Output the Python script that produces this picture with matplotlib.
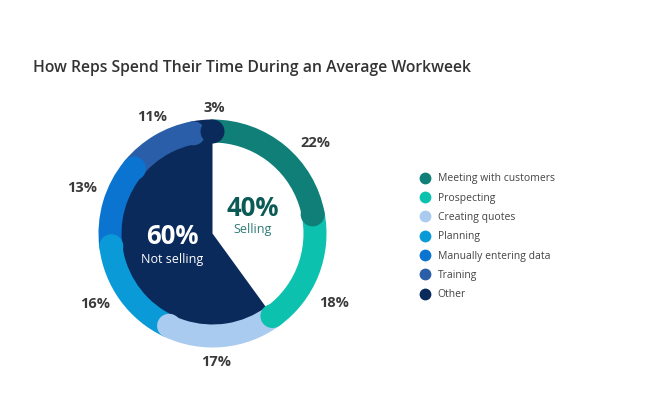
import numpy as np
import matplotlib
matplotlib.use('Agg')
import matplotlib.pyplot as plt
from matplotlib.lines import Line2D
from matplotlib.patches import Circle

# данные
categories = ['Meeting with customers', 'Prospecting', 'Creating quotes', 'Planning',
              'Manually entering data', 'Training', 'Other']
shares = [22, 18, 17, 16, 13, 11, 3]
colors = ['#0f7f78', '#0cc2ae', '#aacbf0', '#0b9ad8', '#0b74d0', '#2a5ea8', '#0b2a5c']
inner_labels = ['Selling', 'Not selling']
inner_shares = [40, 60]

# сдвиг подписей по углу и радиус (оформление)
label_shift = [-9, -8, -4, -5, -3, -3, -6]
label_r = [137, 140, 129, 137, 138, 131, 126]

plt.rcParams['font.family'] = ['Open Sans', 'DejaVu Sans']

W, H = 661, 417
fig = plt.figure(figsize=(W / 100, H / 100), dpi=100)
ax = fig.add_axes([0, 0, 1, 1])

cx, cy = 212.5, H - 233.5
r_out, ring = 114, 24
r_in = r_out - ring

# внешнее кольцо
ax.pie(shares, colors=colors, startangle=90, counterclock=False, radius=r_out,
       center=(cx, cy), wedgeprops=dict(width=ring, linewidth=0), frame=True)
# закругленные концы сегментов
cum = np.cumsum(shares)
r_mid = r_out - ring / 2
for c, col in zip(cum, colors):
    a = np.deg2rad(90 - 360 * c / 100)
    ax.add_patch(Circle((cx + r_mid * np.cos(a), cy + r_mid * np.sin(a)), ring / 2,
                        color=col, lw=0, zorder=3))

# внутренний круг: продажи / не продажи
ax.pie(inner_shares, colors=['white', '#0b2a5c'], startangle=90, counterclock=False,
       radius=r_in + 1, center=(cx, cy), wedgeprops=dict(linewidth=0), frame=True)
ax.set_xlim(0, W)
ax.set_ylim(0, H)
ax.set_aspect('equal')
ax.axis('off')

# подписи процентов
start = np.concatenate([[0], cum[:-1]])
for s, v, d, r in zip(start, shares, label_shift, label_r):
    a = np.deg2rad(90 - 360 * (s + v / 2) / 100 + d)
    ax.text(cx + r * np.cos(a), cy + r * np.sin(a), f'{v}%', ha='center', va='center',
            fontsize=10.5, fontweight='bold', color='#3a3a3a')

ax.text(253, H - 208, f'{inner_shares[0]}%', ha='center', va='center', fontsize=18.5,
        fontweight='bold', color='#0b5a55')
ax.text(253, H - 229, inner_labels[0], ha='center', va='center', fontsize=9, color='#2d7a75')
ax.text(172, H - 236, f'{inner_shares[1]}%', ha='center', va='center', fontsize=18.5,
        fontweight='bold', color='white')
ax.text(172, H - 259, inner_labels[1], ha='center', va='center', fontsize=9, color='white')

ax.text(33, H - 68, 'How Reps Spend Their Time During an Average Workweek', ha='left',
        va='center', fontsize=11.3, fontweight='semibold', color='#333333')

handles = [Line2D([], [], marker='o', ls='', markersize=8.5, markerfacecolor=col,
                  markeredgewidth=0) for col in colors]
fig.legend(handles, categories, loc='upper left', bbox_to_anchor=(405 / W, 1 - 164 / H),
           frameon=False, fontsize=7.5, labelspacing=0.8, handletextpad=0.25,
           labelcolor='#444444')

fig.savefig('out.png', dpi=100, facecolor='white')
